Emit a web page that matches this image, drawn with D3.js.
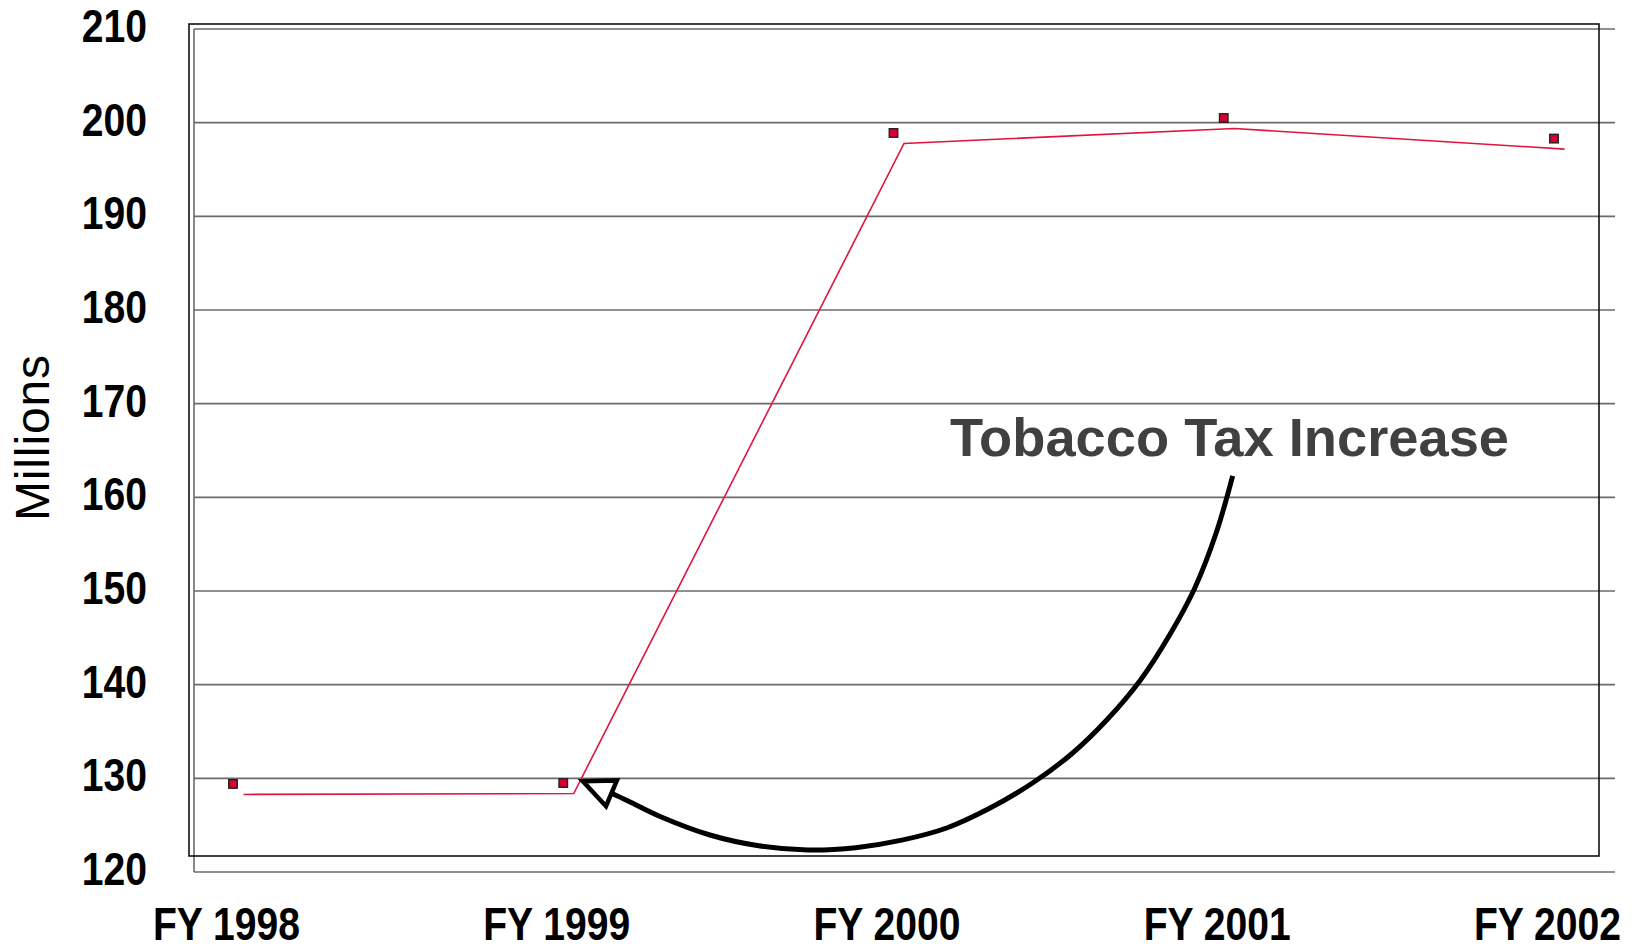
<!DOCTYPE html>
<html>
<head>
<meta charset="utf-8">
<script src="https://cdn.jsdelivr.net/npm/d3@7/dist/d3.min.js"></script>
<style>
  html, body { margin: 0; padding: 0; background: #fff; }
  svg { display: block; }
</style>
</head>
<body>
<svg id="chart" width="1641" height="944"></svg>
<script>
// ---- data ----
const categories = ["FY 1998", "FY 1999", "FY 2000", "FY 2001", "FY 2002"];
const revenue = [129.4, 129.5, 198.9, 200.5, 198.3];   // millions
const yTicks = [120, 130, 140, 150, 160, 170, 180, 190, 200, 210];
const yLabel = "Millions";
const annotationText = "Tobacco Tax Increase";
// annotation curve in data space: [category index (fractional), value]
const annotationPath = [
  [3.027, 162.3], [2.978, 156.3], [2.912, 150.3], [2.836, 145.3], [2.748, 140.5],
  [2.645, 136.2], [2.539, 132.6], [2.421, 129.5], [2.291, 126.8], [2.161, 124.7],
  [2.025, 123.4], [1.886, 122.6], [1.740, 122.35], [1.592, 122.8], [1.444, 123.95],
  [1.295, 125.9], [1.195, 127.6], [1.146, 128.4]
];
const arrowTip = [1.059, 129.7];

// ---- layout ----
const svg = d3.select("#chart");
const wall = { left: 194, right: 1615, top: 29, bottom: 872 };
const frame = { left: 189, right: 1599, top: 24, bottom: 856 };
const depth = 10.5;

const x = d3.scalePoint().domain(categories).range([233, 1554]);
const xi = d3.scaleLinear().domain([0, categories.length - 1]).range(x.range());
const y = d3.scaleLinear().domain([120, 210]).range([wall.bottom, wall.top]);

// gridlines (back wall)
svg.append("g")
  .selectAll("line")
  .data(yTicks)
  .join("line")
  .attr("x1", wall.left).attr("x2", wall.right)
  .attr("y1", d => y(d)).attr("y2", d => y(d))
  .attr("stroke", "#6b6b6b").attr("stroke-width", 1.6);
svg.append("line")
  .attr("x1", wall.left).attr("x2", wall.left)
  .attr("y1", wall.top).attr("y2", wall.bottom)
  .attr("stroke", "#6b6b6b").attr("stroke-width", 1.6);

// frame
svg.append("rect")
  .attr("x", frame.left).attr("y", frame.top)
  .attr("width", frame.right - frame.left).attr("height", frame.bottom - frame.top)
  .attr("fill", "none").attr("stroke", "#111").attr("stroke-width", 1.6);

// condensed bold text helper
function condensed(sel, txt, sx) {
  sel.text(txt);
}

// y tick labels
const yAxis = d3.axisLeft(y).tickValues(yTicks).tickSize(0).tickPadding(0);
const gy = svg.append("g").attr("transform", "translate(147,-4)").call(yAxis);
gy.select(".domain").remove();
gy.selectAll("text")
  .attr("font-family", "'Liberation Sans', Arial, sans-serif")
  .attr("font-weight", "bold").attr("font-size", 46).attr("fill", "#000")
  .attr("text-anchor", "end").attr("dy", "0.36em").attr("x", 0)
  .each(function () {
    const w = this.getComputedTextLength();
    d3.select(this).attr("textLength", w * 0.85).attr("lengthAdjust", "spacingAndGlyphs")
      .attr("x", 0);
  });

// x tick labels
const xAxis = d3.axisBottom(x).tickSize(0).tickPadding(0);
const gx = svg.append("g").attr("transform", "translate(-7,940)").call(xAxis);
gx.select(".domain").remove();
gx.selectAll("text")
  .attr("font-family", "'Liberation Sans', Arial, sans-serif")
  .attr("font-weight", "bold").attr("font-size", 46).attr("fill", "#000")
  .attr("dy", 0).attr("y", 0)
  .each(function () {
    const w = this.getComputedTextLength();
    d3.select(this).attr("textLength", w * 0.85).attr("lengthAdjust", "spacingAndGlyphs");
  });

// y axis title
svg.append("text")
  .attr("transform", "translate(49,438) rotate(-90)")
  .attr("text-anchor", "middle")
  .attr("font-family", "'Liberation Sans', Arial, sans-serif")
  .attr("font-size", 48).attr("fill", "#000")
  .attr("textLength", 166).attr("lengthAdjust", "spacing")
  .text(yLabel);

// series line (drawn at depth offset)
const line = d3.line()
  .x((d, i) => x(categories[i]))
  .y(d => y(d));
svg.append("path")
  .datum(revenue)
  .attr("transform", `translate(${depth},${depth})`)
  .attr("d", line)
  .attr("fill", "none").attr("stroke", "#e0143f").attr("stroke-width", 1.6);

// markers
const ms = 8.5;
svg.append("g")
  .selectAll("rect")
  .data(revenue)
  .join("rect")
  .attr("x", (d, i) => x(categories[i]) - ms / 2)
  .attr("y", d => y(d) - ms / 2)
  .attr("width", ms).attr("height", ms)
  .attr("fill", "#d8002e").attr("stroke", "#222").attr("stroke-width", 1.4);

// annotation text
svg.append("text")
  .attr("x", 950).attr("y", 456)
  .attr("font-family", "'Liberation Sans', Arial, sans-serif")
  .attr("font-weight", "bold").attr("font-size", 54).attr("fill", "#404040")
  .attr("textLength", 559).attr("lengthAdjust", "spacingAndGlyphs")
  .text(annotationText);

// annotation curve
const curve = d3.line()
  .x(d => xi(d[0])).y(d => y(d[1]))
  .curve(d3.curveCatmullRom);
svg.append("path")
  .datum(annotationPath)
  .attr("d", curve)
  .attr("fill", "none").attr("stroke", "#000").attr("stroke-width", 5)
  .attr("stroke-linecap", "butt");

// arrowhead (open triangle)
const end = annotationPath[annotationPath.length - 1];
const ex = xi(end[0]), ey = y(end[1]);
const tx = xi(arrowTip[0]), ty = y(arrowTip[1]);
const dx = tx - ex, dy = ty - ey, len = Math.hypot(dx, dy);
const px = -dy / len, py = dx / len;
const half = 14;
const tri = [[tx, ty], [ex + px * half, ey + py * half], [ex - px * half, ey - py * half]];
svg.append("path")
  .attr("d", "M" + tri.map(p => p.join(",")).join("L") + "Z")
  .attr("fill", "#fff").attr("stroke", "#000").attr("stroke-width", 4.5)
  .attr("stroke-linejoin", "miter");
</script>
</body>
</html>
